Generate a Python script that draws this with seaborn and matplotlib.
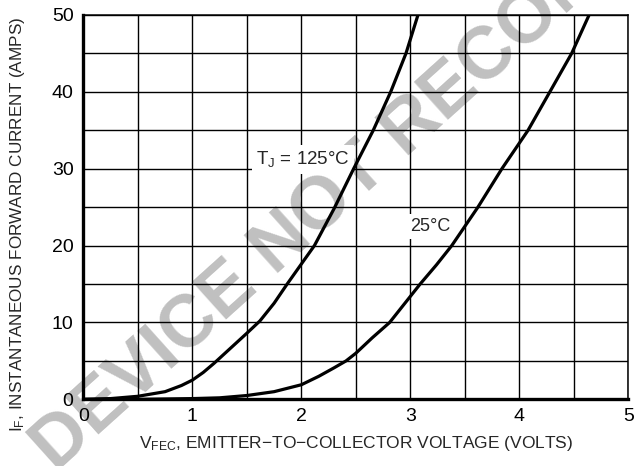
import matplotlib
matplotlib.use("Agg")
import matplotlib.pyplot as plt
from matplotlib.ticker import MultipleLocator
import pandas as pd
import seaborn as sns

# forward characteristics
v_125 = [0, 0.25, 0.5, 0.75, 0.9, 1.0, 1.1, 1.2, 1.3, 1.4, 1.5, 1.62, 1.75, 1.87,
         2.0, 2.12, 2.3, 2.48, 2.66, 2.82, 2.96, 3.07]
i_125 = [0, 0.1, 0.4, 1.0, 1.8, 2.5, 3.5, 4.7, 6.0, 7.3, 8.6, 10.2, 12.5, 15,
         17.6, 20, 24.8, 30, 35, 40, 45, 50]

v_25 = [0, 0.5, 1.0, 1.25, 1.5, 1.75, 2.0, 2.16, 2.3, 2.41, 2.5, 2.65, 2.81, 2.95,
        3.09, 3.24, 3.38, 3.5, 3.62, 3.73, 3.84, 3.96, 4.08, 4.28, 4.48, 4.64]
i_25 = [0, 0, 0.1, 0.2, 0.5, 1.0, 1.9, 3.0, 4.1, 5, 6, 8, 10, 12.5,
        15, 17.5, 20, 22.5, 25, 27.5, 30, 32.5, 35, 40, 45, 50]

x_ticks = [0, 1, 2, 3, 4, 5]
y_ticks = [0, 10, 20, 30, 40, 50]

df = pd.concat([
    pd.DataFrame({"V": v_125, "I": i_125, "Tj": "125"}),
    pd.DataFrame({"V": v_25, "I": i_25, "Tj": "25"}),
])

sns.set_style("white")
plt.rcParams["font.family"] = ["Liberation Sans", "DejaVu Sans"]
plt.rcParams["mathtext.default"] = "regular"

fig = plt.figure(figsize=(6.36, 4.66), dpi=100)
ax = fig.add_axes([0.131, 0.143, 0.857, 0.825])

# grey watermark behind the grid (runs off the page like the original)
ax.text(0.0676, 0.017, "DEVICE NOT RECOMMENDED FOR NEW DESIGN", transform=fig.transFigure,
        rotation=42, rotation_mode="anchor", ha="left", va="center",
        fontsize=53, fontweight="bold", color="#c0c0c0", zorder=0.1, clip_on=False)

for tj in ["125", "25"]:
    sns.lineplot(data=df[df["Tj"] == tj], x="V", y="I", color="black", linewidth=2.3,
                 sort=False, estimator=None, ax=ax, zorder=3,
                 solid_joinstyle="round", solid_capstyle="round")

ax.set_xlim(0, 5)
ax.set_ylim(0, 50)
ax.set_xticks(x_ticks)
ax.set_yticks(y_ticks)
ax.xaxis.set_minor_locator(MultipleLocator(0.5))
ax.yaxis.set_minor_locator(MultipleLocator(5))
ax.set_axisbelow(True)
ax.grid(True, which="both", color="black", linewidth=1.0)
ax.tick_params(which="both", length=0, labelsize=14, colors="black")
ax.tick_params(axis="x", pad=6)
ax.tick_params(axis="y", pad=7)

for side in ["top", "right"]:
    ax.spines[side].set_linewidth(1.1)
for side in ["left", "bottom"]:
    ax.spines[side].set_linewidth(2.4)
for s in ax.spines.values():
    s.set_color("black")
    s.set_zorder(4)

ax.set_xlabel("$V_{FEC}$, EMITTER\u2212TO\u2212COLLECTOR VOLTAGE (VOLTS)", fontsize=12.5, labelpad=7)
ax.set_ylabel("$I_F$, INSTANTANEOUS FORWARD CURRENT (AMPS)", fontsize=12.3)
ax.yaxis.set_label_coords(-0.104, 0.455)

box = dict(facecolor="white", edgecolor="none", pad=3)
ax.text(2.015, 31.2, "$T_J$ = 125\u00b0C", ha="center", va="center", fontsize=13.5, bbox=box, zorder=2)
ax.text(3.18, 22.5, "25\u00b0C", ha="center", va="center", fontsize=13, bbox=box, zorder=2)

fig.savefig("out.png", dpi=100)
